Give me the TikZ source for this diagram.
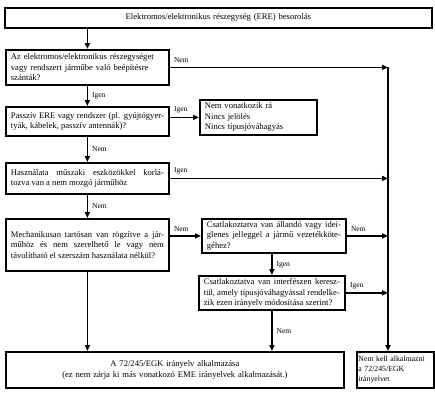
\documentclass[tikz,border=0pt]{standalone}
\usepackage{fontspec}
\setmainfont{Liberation Serif}
\usetikzlibrary{arrows.meta}
\tikzset{
  bx/.style={draw, line width=1.8pt, anchor=north west, inner xsep=5pt, inner ysep=0pt,
    font=\fontsize{8.6}{10.5}\selectfont},
  arr/.style={line width=1.5pt, -{Triangle[length=6pt,width=5pt]}},
  lbl/.style={font=\fontsize{7.5}{8}\selectfont, inner sep=0pt, anchor=west},
}
\begin{document}
\begin{tikzpicture}[x=1pt,y=-1pt]
\useasboundingbox (0,0) rectangle (435,394);
\fill[white] (0,0) rectangle (435,394);
% boxes
\node[bx, text width=417pt, minimum height=20pt, align=center] (title) at (4,7)
  {Elektromos/elektronikus részegység (ERE) besorolás};
\node[bx, text width=153pt, minimum height=35pt, align=left] (b1) at (5,49)
  {Az elektromos/elektronikus részegységet\\vagy rendszert járműbe való beépítésre\\szánták?};
\node[bx, text width=153pt, minimum height=29pt, align=justify] (b2) at (5,106)
  {Passzív ERE vagy rendszer (pl. gyújtógyer-\linebreak tyák, kábelek, passzív antennák)?};
\node[bx, text width=107pt, minimum height=35pt, align=left] (side) at (199,99)
  {Nem vonatkozik rá\\Nincs jelölés\\Nincs típusjóváhagyás};
\node[bx, text width=153pt, minimum height=31pt, align=justify] (b3) at (5,162)
  {Használata műszaki eszközökkel korlá-\linebreak tozva van a nem mozgó járműhöz};
\node[bx, text width=153pt, minimum height=52pt, align=justify] (b4) at (5,218)
  {Mechanikusan tartósan van rögzítve a jár-\linebreak műhöz és nem szerelhető le vagy nem\linebreak távolítható el szerszám használata nélkül?};
\node[bx, text width=134pt, minimum height=34pt, align=justify] (b5) at (201,218)
  {Csatlakoztatva van állandó vagy idei-\linebreak glenes jelleggel a jármű vezetékköte-\linebreak géhez?};
\node[bx, text width=136pt, minimum height=34pt, align=justify] (b6) at (198,275)
  {Csatlakoztatva van interfészen keresz-\linebreak tül, amely típusjóváhagyással rendelke-\linebreak zik ezen irányelv módosítása szerint?};
\node[bx, text width=328pt, minimum height=36pt, align=center] (bottom) at (5,351)
  {A 72/245/EGK irányelv alkalmazása\\(ez nem zárja ki más vonatkozó EME irányelvek alkalmazását.)};
\node[bx, inner xsep=1.5pt, text width=74pt, minimum height=36pt, align=left,
  font=\fontsize{7.8}{10}\selectfont] (right) at (356,351)
  {Nem kell alkalmazni\\a 72/245/EGK\\irányelvet};
\coordinate (rail) at (388,0);
% connectors
\draw[arr] (b1.north |- title.south) -- (b1.north);
\draw[arr] (b1.south) -- node[lbl, right=4pt] {Igen} (b2.north);
\draw[arr] (b2.south) -- node[lbl, right=4pt] {Nem} (b3.north);
\draw[arr] (b3.south) -- node[lbl, right=4pt] {Nem} (b4.north);
\draw[arr] (b4.south) -- (b4.south |- bottom.north);
\draw[arr] (b1.east) -- (b1.east -| rail);
\node[lbl, anchor=south west] (l1) at ([xshift=4pt,yshift=5pt]b1.east) {Nem};
\draw[arr] (b2.east |- side.west) -- (side.west);
\node[lbl, anchor=south west] (l2) at ([xshift=4pt,yshift=4pt]b2.east |- side.west) {Igen};
\draw[arr] (b3.east) -- (b3.east -| rail);
\node[lbl, anchor=south west] (l3) at ([xshift=4pt,yshift=4pt]b3.east) {Igen};
\draw[arr] (b4.east |- b5.west) -- (b5.west);
\node[lbl, anchor=south west] (l4) at ([xshift=4pt,yshift=4pt]b4.east |- b5.west) {Nem};
\draw[arr] (b5.east) -- (b5.east -| rail);
\node[lbl, anchor=south west] (l5) at ([xshift=4pt,yshift=4pt]b5.east) {Nem};
\draw[arr] (b6.north |- b5.south) -- node[lbl, right=4pt] {Igen} (b6.north);
\draw[arr] (b6.east) -- (b6.east -| rail);
\node[lbl, anchor=south west] (l6) at ([xshift=4pt,yshift=4pt]b6.east) {Igen};
\draw[arr] (b6.south) -- node[lbl, right=4pt] {Nem} (b6.south |- bottom.north);
\draw[arr, line width=1.8pt] (b1.east -| rail) -- (rail |- right.north);
\end{tikzpicture}
\end{document}
